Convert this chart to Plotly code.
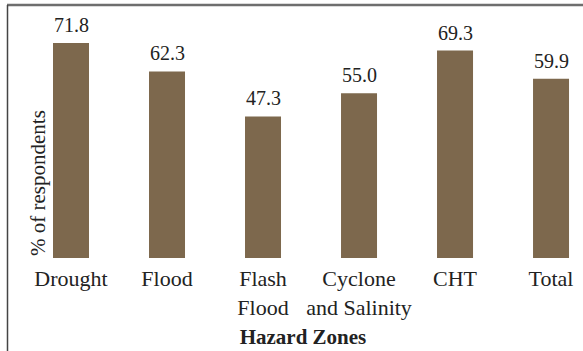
import plotly.graph_objects as go

# Share of respondents by hazard zone
zones = ["Drought", "Flood", "Flash<br>Flood", "Cyclone<br>and Salinity", "CHT", "Total"]
percent = [71.8, 62.3, 47.3, 55.0, 69.3, 59.9]

W, H = 583, 351
M_L, M_R, M_T, M_B = 23, 0, 5, 93

BAR = "#7d684d"
INK = "#222222"
FONT = "Liberation Serif, Times New Roman, serif"

fig = go.Figure(
    go.Bar(
        x=list(range(len(zones))),
        y=percent,
        marker=dict(color=BAR, line=dict(width=0)),
        hoverinfo="skip",
    )
)

# value labels above each bar
for i, v in enumerate(percent):
    fig.add_annotation(
        x=i, y=v, text=f"{v:.1f}", showarrow=False,
        yanchor="bottom", yshift=5,
        font=dict(family=FONT, size=20, color=INK),
    )

pw = W - M_L - M_R
ph = H - M_T - M_B

# frame lines (top and left)
fig.add_shape(type="line", xref="paper", yref="paper",
              x0=(7 - M_L) / pw, x1=1.05, y0=1.0, y1=1.0,
              line=dict(color="#6e6e6e", width=2.5))
fig.add_shape(type="line", xref="paper", yref="paper",
              x0=(7.5 - M_L) / pw, x1=(7.5 - M_L) / pw, y0=1.0, y1=-M_B / ph - 0.05,
              line=dict(color="#444444", width=1.5))

fig.update_layout(
    width=W, height=H,
    margin=dict(l=M_L, r=M_R, t=M_T, b=M_B),
    paper_bgcolor="white", plot_bgcolor="white",
    bargap=0.625,
    showlegend=False,
    font=dict(family=FONT, color=INK),
    xaxis=dict(
        range=[-0.5, 5.333],
        tickmode="array",
        tickvals=list(range(len(zones))),
        ticktext=zones,
        tickfont=dict(family=FONT, size=22, color=INK),
        ticks="outside", ticklen=1, tickcolor="rgba(0,0,0,0)",
        showline=False, showgrid=False, zeroline=False,
        title=dict(text="<b>Hazard Zones</b>", font=dict(family=FONT, size=21, color=INK), standoff=10),
    ),
    yaxis=dict(
        range=[0, 84.5],
        showticklabels=False, ticks="",
        showline=False, showgrid=False, zeroline=False,
    ),
)

# vertical axis title
fig.add_annotation(
    text="% of respondents", xref="paper", yref="paper",
    x=(38 - M_L) / pw, y=(H - M_B - 183) / ph,
    xanchor="center", yanchor="middle",
    textangle=-90, showarrow=False,
    font=dict(family=FONT, size=21, color=INK),
)

fig.write_html("out.html")
